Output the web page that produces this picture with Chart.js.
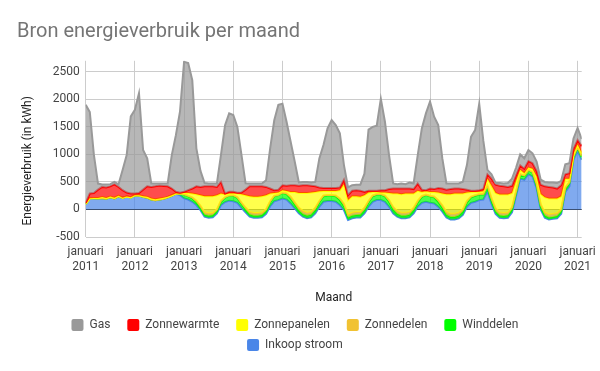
<!DOCTYPE html>
<html>
<head>
<meta charset="utf-8">
<script src="https://cdn.jsdelivr.net/npm/chart.js@4"></script>
<style>
html,body{margin:0;padding:0;background:#ffffff;}
canvas{display:block;}
</style>
</head>
<body>
<canvas id="c" width="600" height="371"></canvas>
<script>
// ---- data (monthly, januari 2011 .. februari 2021) ----
const monthName = 'januari';
const yearTicks = ['2011','2012','2013','2014','2015','2016','2017','2018','2019','2020','2021'];
const yTickValues = [-500, 0, 500, 1000, 1500, 2000, 2500];

const inkoopStroom = [
  100,205,205,200,210,195,220,200,240,210,235,220,
  259,254,231,214,179,167,179,196,219,254,289,259,
  200,180,140,80,-12,-130,-150,-140,-70,80,135,160,
  150,120,30,-50,-130,-150,-150,-140,-80,60,150,170,
  200,180,110,20,-70,-130,-160,-145,-70,50,140,155,
  155,140,80,-10,-190,-160,-145,-145,-70,50,140,170,
  170,140,50,-70,-130,-160,-160,-145,-70,50,120,140,
  120,110,50,-40,-145,-180,-180,-160,-100,50,120,140,
  170,180,330,100,-80,-150,-160,-150,-50,250,560,540,
  640,600,380,0,-150,-180,-170,-160,-80,320,420,900,
  1070,900
];
const winddelen = [
  0,0,0,0,0,0,0,0,0,0,0,0,
  0,0,0,0,0,0,0,0,0,0,0,30,
  70,60,60,50,40,35,35,35,40,60,80,90,
  100,90,70,50,40,35,35,40,50,70,90,90,
  100,100,90,70,50,45,45,50,60,80,100,100,
  100,100,90,70,45,45,45,50,60,80,100,100,
  100,100,90,70,50,45,45,50,60,80,110,120,
  120,110,90,70,50,45,45,50,60,80,100,110,
  100,90,80,60,45,40,40,45,50,60,70,70,
  70,70,60,50,40,35,35,40,45,55,60,60,
  60,60
];
const zonnedelen = [
  0,0,0,0,0,0,0,0,0,0,0,0,
  0,0,0,0,0,0,0,0,0,0,0,0,
  5,10,20,30,40,45,45,40,30,20,10,5,
  10,15,25,35,45,50,50,45,35,20,10,5,
  10,15,30,40,50,55,55,50,40,25,15,10,
  10,15,30,45,50,55,55,50,40,25,15,10,
  10,15,30,45,50,55,55,50,40,25,15,10,
  10,15,30,45,55,55,55,50,40,25,15,10,
  10,15,30,45,55,55,55,50,40,25,15,10,
  10,15,30,45,55,55,55,50,40,25,15,10,
  10,15
];
const zonnepanelen = [
  0,0,5,10,15,15,15,15,10,5,2,0,
  0,5,10,15,20,20,20,15,10,5,0,0,
  25,50,70,117,191,291,311,306,259,130,46,35,
  30,65,152,224,286,294,294,296,254,140,50,42,
  40,42,89,189,271,331,361,352,289,176,82,72,
  72,82,149,352,265,301,286,274,229,152,64,39,
  27,52,131,244,319,337,349,334,259,185,74,61,
  69,84,137,214,317,357,369,349,289,152,84,59,
  40,45,120,225,280,325,335,325,260,185,75,40,
  40,55,130,185,275,290,280,270,235,160,65,40,
  40,45
];
const zonnewarmte = [
  20,85,90,150,185,190,185,242,160,135,70,70,
  31,41,119,191,211,233,234,216,191,121,31,15,
  20,50,90,143,151,179,179,179,151,210,19,30,
  30,15,30,101,179,191,191,179,151,90,50,53,
  90,93,121,121,129,139,139,123,101,69,53,53,
  53,53,51,83,90,99,109,111,61,33,21,21,
  43,43,69,91,91,103,91,91,81,130,41,19,
  61,51,83,91,83,93,91,91,81,53,21,21,
  30,40,80,130,150,160,150,140,130,100,80,80,
  120,100,100,170,200,210,200,180,200,80,100,90,
  80,130
];
const gas = [
  1780,1480,690,110,45,55,40,43,45,365,683,1400,
  1520,1810,720,510,63,53,40,46,53,608,1030,1471,
  2360,2310,1970,690,290,60,50,50,60,490,1240,1425,
  1395,1195,683,115,53,53,53,53,120,730,1270,1540,
  1480,1164,790,427,60,60,60,60,80,527,780,1083,
  1234,1143,982,266,140,100,100,110,330,1110,1160,1180,
  1660,1244,618,93,80,93,80,110,103,518,1113,1395,
  1577,1315,1143,547,113,103,93,93,133,446,981,1102,
  1570,880,80,80,30,50,50,70,130,140,200,190,
  200,180,170,90,80,80,90,100,80,180,180,190,
  220,130
];

// ---- chart ----
const toPoints = arr => arr.map((v, i) => ({x: i, y: v}));
const lastIndex = inkoopStroom.length - 1;

function ds(label, values, color, rgb, fill) {
  return {
    label: label,
    data: toPoints(values),
    borderColor: color,
    backgroundColor: 'rgba(' + rgb + ',0.7)',
    borderWidth: 2,
    pointRadius: 0,
    pointHoverRadius: 0,
    tension: 0,
    fill: fill
  };
}

const datasets = [
  ds('Inkoop stroom', inkoopStroom, '#4a86e8', '74,134,232', 'origin'),
  ds('Winddelen', winddelen, '#00ff00', '0,255,0', '-1'),
  ds('Zonnedelen', zonnedelen, '#f1c232', '241,194,50', '-1'),
  ds('Zonnepanelen', zonnepanelen, '#ffff00', '255,255,0', '-1'),
  ds('Zonnewarmte', zonnewarmte, '#ff0000', '255,0,0', '-1'),
  ds('Gas', gas, '#999999', '153,153,153', '-1')
];

// draw bottom series first so upper series paint over it (like the original)
const forwardDraw = {
  id: 'forwardDraw',
  beforeDatasetsDraw(chart) {
    if (typeof chart._drawDataset !== 'function') return;
    const metas = chart.getSortedVisibleDatasetMetas();
    for (const m of metas) chart._drawDataset(m);
    return false;
  }
};

const fontFamily = 'Roboto';

new Chart(document.getElementById('c'), {
  type: 'line',
  data: { datasets: datasets },
  plugins: [forwardDraw],
  options: {
    responsive: false,
    animation: false,
    devicePixelRatio: 1,
    layout: { padding: { left: 17, right: 18.3, top: 0, bottom: 10 } },
    interaction: { mode: 'nearest', intersect: false },
    scales: {
      x: {
        type: 'linear',
        min: 0,
        max: lastIndex,
        afterBuildTicks(s) {
          s.ticks = yearTicks.map((y, i) => ({ value: i * 12 }));
        },
        ticks: {
          autoSkip: false,
          maxRotation: 0,
          minRotation: 0,
          padding: 7.5,
          color: '#444444',
          font: { family: fontFamily, size: 12, lineHeight: 1.25 },
          callback: v => (v % 12 === 0 ? [monthName, yearTicks[v / 12]] : '')
        },
        grid: { color: '#cccccc', drawTicks: false, lineWidth: 1 },
        border: { display: false },
        title: {
          display: true,
          text: 'Maand',
          color: '#222222',
          font: { family: fontFamily, size: 12, lineHeight: 1.25 },
          padding: { top: 8.5, bottom: 5.5 }
        },
        afterFit(s) { s.height = 74; s.paddingLeft = 0; s.paddingRight = 0; }
      },
      y: {
        stacked: 'single',
        min: -500,
        max: 2700,
        afterBuildTicks(s) {
          s.ticks = yTickValues.map(v => ({ value: v }));
        },
        ticks: {
          autoSkip: false,
          padding: 6,
          color: '#444444',
          font: { family: fontFamily, size: 12, lineHeight: 1.25 },
          callback: v => String(v)
        },
        grid: {
          color: ctx => (ctx.tick && ctx.tick.value === 0 ? '#333333' : '#cccccc'),
          drawTicks: false,
          lineWidth: 1
        },
        border: { display: false },
        title: {
          display: true,
          text: 'Energieverbruik (in kWh)        ',
          color: '#222222',
          font: { family: fontFamily, size: 12, lineHeight: 1.25 },
          padding: { top: 3.5, bottom: 0 }
        },
        afterFit(s) { s.width = 68.7; s.paddingTop = 0; s.paddingBottom = 0; }
      }
    },
    plugins: {
      tooltip: { enabled: false },
      title: {
        display: true,
        text: 'Bron energieverbruik per maand',
        align: 'start',
        color: '#757575',
        font: { family: fontFamily, size: 20, weight: 'normal', lineHeight: 1.2 },
        padding: { top: 20, bottom: 16.8 }
      },
      legend: {
        position: 'bottom',
        reverse: true,
        labels: {
          boxWidth: 12,
          boxHeight: 12,
          padding: 8,
          useBorderRadius: true,
          borderRadius: 2,
          color: '#444444',
          font: { family: fontFamily, size: 12 },
          generateLabels(chart) {
            const items = Chart.defaults.plugins.legend.labels.generateLabels(chart);
            return items.map(it => {
              const d = chart.data.datasets[it.datasetIndex];
              return Object.assign({}, it, {
                text: it.text + '   ',
                fillStyle: d.borderColor,
                strokeStyle: d.borderColor,
                lineWidth: 0
              });
            });
          }
        }
      }
    }
  }
});
</script>
</body>
</html>
